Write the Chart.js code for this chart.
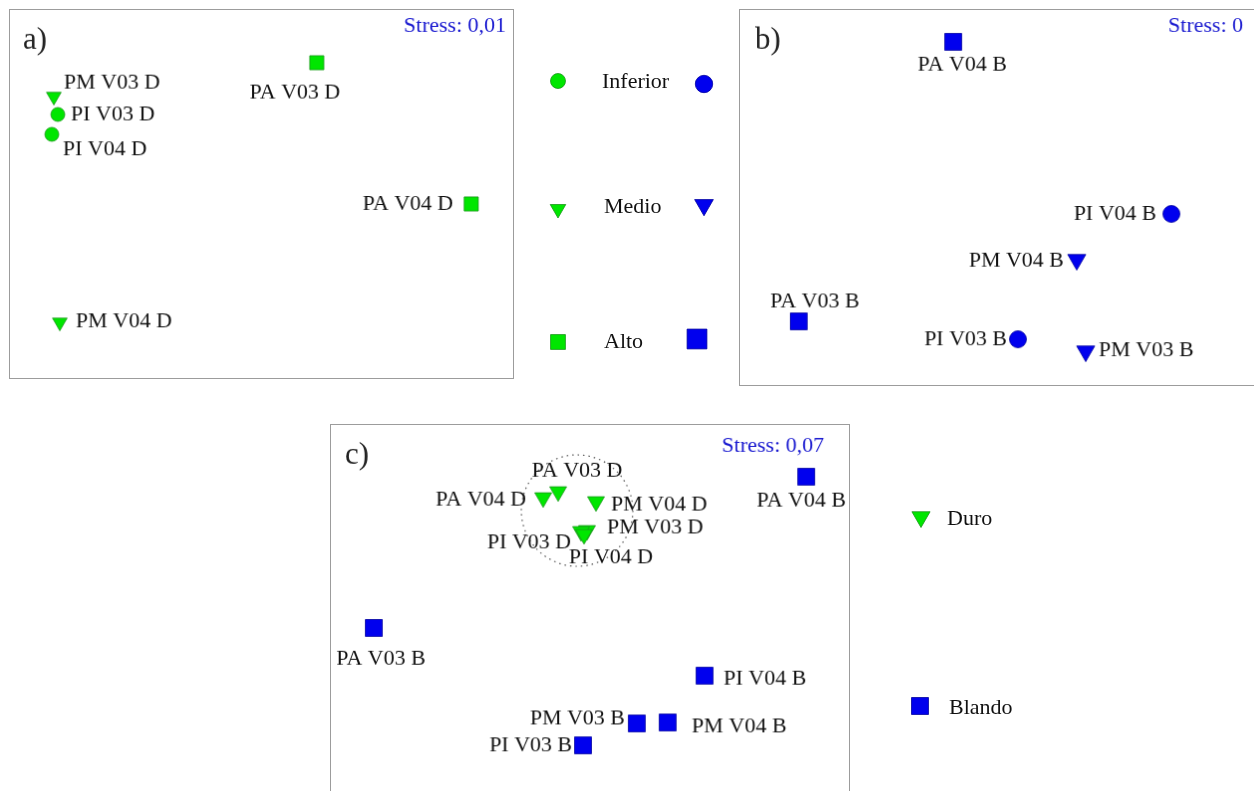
<!DOCTYPE html>
<html>
<head>
<meta charset="utf-8">
<script src="https://cdn.jsdelivr.net/npm/chart.js@4.4.1/dist/chart.umd.min.js"></script>
<style>
  html, body { margin: 0; padding: 0; background: #fff; overflow: hidden; width: 1254px; height: 791px; }
  canvas { position: absolute; }
  .box { border: 1px solid #9c9c9c; }
</style>
</head>
<body>
<canvas id="panelA" class="box" width="505" height="370" style="left:9px;top:9px"></canvas>
<canvas id="legendGroups" width="215" height="400" style="left:520px;top:0px"></canvas>
<canvas id="panelB" class="box" width="530" height="377" style="left:739px;top:9px"></canvas>
<canvas id="panelC" class="box" width="520" height="380" style="left:330px;top:424px"></canvas>
<canvas id="legendTexture" width="160" height="280" style="left:880px;top:470px"></canvas>
<script>
// NMDS ordinations, coordinates (arbitrary units)

// a) Duro
const labelsA = ["PA V03 D", "PM V03 D", "PI V03 D", "PI V04 D", "PA V04 D", "PM V04 D"];
const groupA = ["Alto", "Medio", "Inferior", "Inferior", "Alto", "Medio"];
const xA = [308, 44, 48, 42, 463, 50];
const yA = [317, 283, 265, 245, 175, 56];
const stressA = "Stress: 0,01";

// b) Blando
const labelsB = ["PA V04 B", "PI V04 B", "PM V04 B", "PA V03 B", "PI V03 B", "PM V03 B"];
const groupB = ["Alto", "Inferior", "Medio", "Alto", "Inferior", "Medio"];
const xB = [214, 433, 338, 59, 279, 347];
const yB = [345, 172, 126, 64, 46, 34];
const stressB = "Stress: 0";

// c) Duro + Blando
const labelsC = ["PA V03 D", "PA V04 D", "PM V04 D", "PM V03 D", "PI V03 D", "PI V04 D",
                 "PA V04 B", "PA V03 B", "PI V04 B", "PM V03 B", "PM V04 B", "PI V03 B"];
const groupC = ["Duro", "Duro", "Duro", "Duro", "Duro", "Duro",
                "Blando", "Blando", "Blando", "Blando", "Blando", "Blando"];
const xC = [228, 213, 266, 257, 251, 254, 477, 43, 375, 307, 338, 253];
const yC = [313, 307, 303, 274, 273, 270, 328, 176, 128, 80, 81, 58];
const stressC = "Stress: 0,07";
const clusterCenter = [247, 294];
const clusterRadius = 56;

// legends
const zoneNames = ["Inferior", "Medio", "Alto"];
const textureNames = ["Duro", "Blando"];

// ---- styles ----
const GREEN = "#00e600", GREEN_EDGE = "#1c961c";
const BLUE = "#0000ee", BLUE_EDGE = "#0000a0";
const shapeOf = { Inferior: "circle", Medio: "triangle", Alto: "rect", Duro: "triangle", Blando: "rect" };
const FONT = "'Liberation Serif', 'DejaVu Serif', serif";

// label offsets [dx, dy, align] relative to each marker
const offsetsA = [[-22, 30, "center"], [10, -14, "left"], [13, 0, "left"], [11, 15, "left"], [-18, 0, "right"], [16, -1, "left"]];
const offsetsB = [[9, 23, "center"], [-15, 0, "right"], [-13, 1, "right"], [16, -20, "center"], [-11, 0, "right"], [13, -1, "left"]];
const offsetsC = [[19, -21, "center"], [-17, 2, "right"], [15, 3, "left"], [20, -3, "left"], [-10, 11, "right"], [27, 23, "center"],
                  [-5, 24, "center"], [7, 31, "center"], [19, 3, "left"], [-12, -5, "right"], [24, 4, "left"], [-11, 0, "right"]];

function pts(xs, ys) {
  return xs.map((x, i) => ({ x: x, y: ys[i] }));
}

function textPlugin(cfg) {
  return {
    id: "texts",
    beforeDatasetsDraw(chart) {
      if (!cfg.circle) return;
      const { ctx, scales } = chart;
      const cx = scales.x.getPixelForValue(cfg.circle[0]);
      const cy = scales.y.getPixelForValue(cfg.circle[1]);
      const r = scales.x.getPixelForValue(cfg.circle[0] + cfg.circle[2]) - cx;
      ctx.save();
      ctx.strokeStyle = "#555";
      ctx.lineWidth = 1.2;
      ctx.setLineDash([1.5, 4]);
      ctx.beginPath();
      ctx.arc(cx, cy, r, 0, Math.PI * 2);
      ctx.stroke();
      ctx.restore();
    },
    afterDatasetsDraw(chart) {
      const { ctx } = chart;
      ctx.save();
      ctx.fillStyle = "#111";
      ctx.textBaseline = "middle";
      ctx.font = "22px " + FONT;
      chart.getDatasetMeta(0).data.forEach((pt, i) => {
        if (!cfg.labels[i]) return;
        const [dx, dy, align] = cfg.offsets[i];
        ctx.textAlign = align;
        ctx.fillText(cfg.labels[i], pt.x + dx, pt.y + dy);
      });
      if (cfg.tag) {
        ctx.textAlign = "left";
        ctx.font = "31px " + FONT;
        ctx.fillStyle = "#222";
        ctx.fillText(cfg.tag, cfg.tagAt[0], cfg.tagAt[1]);
      }
      if (cfg.stress) {
        ctx.textAlign = "right";
        ctx.font = "22px " + FONT;
        ctx.fillStyle = "#1a1ad0";
        ctx.fillText(cfg.stress, cfg.stressAt[0], cfg.stressAt[1]);
      }
      ctx.restore();
    }
  };
}

// sizes: either {shape: radius} or an array of radii per point
function makeChart(id, data, groups, colors, edges, sizes, cfg) {
  const canvas = document.getElementById(id);
  const radii = Array.isArray(sizes) ? sizes : groups.map((g) => sizes[shapeOf[g]]);
  return new Chart(canvas, {
    type: "scatter",
    data: {
      datasets: [{
        data: data,
        pointStyle: groups.map((g) => shapeOf[g]),
        rotation: groups.map((g) => (shapeOf[g] === "triangle" ? 180 : 0)),
        pointRadius: radii,
        pointHoverRadius: radii,
        backgroundColor: colors,
        borderColor: edges,
        borderWidth: 0.8,
        clip: false
      }]
    },
    options: {
      responsive: false,
      animation: false,
      events: [],
      layout: { padding: 0, autoPadding: false },
      plugins: { legend: { display: false }, tooltip: { enabled: false } },
      scales: {
        x: { type: "linear", display: false, min: 0, max: canvas.width },
        y: { type: "linear", display: false, min: 0, max: canvas.height }
      }
    },
    plugins: [textPlugin(cfg)]
  });
}

const colorFor = (g) => (g === "Blando" ? BLUE : GREEN);

makeChart("panelA", pts(xA, yA), groupA, GREEN, GREEN_EDGE,
  { circle: 7, triangle: 8.5, rect: 10 },
  { labels: labelsA, offsets: offsetsA, tag: "a)", tagAt: [13, 31], stress: stressA, stressAt: [498, 16] });

makeChart("panelB", pts(xB, yB), groupB, BLUE, BLUE_EDGE,
  { circle: 8.5, triangle: 10.5, rect: 12 },
  { labels: labelsB, offsets: offsetsB, tag: "b)", tagAt: [15, 31], stress: stressB, stressAt: [505, 16] });

makeChart("panelC", pts(xC, yC), groupC, groupC.map(colorFor),
  groupC.map((g) => (g === "Blando" ? BLUE_EDGE : GREEN_EDGE)),
  { triangle: 9.8, rect: 12 },
  { labels: labelsC, offsets: offsetsC, tag: "c)", tagAt: [14, 31], stress: stressC, stressAt: [495, 21],
    circle: [clusterCenter[0], clusterCenter[1], clusterRadius] });

// legend of zones: green (duro) column, blue (blando) column
const legXGreen = [38, 38, 38];
const legXBlue = [184, 184, 177];
const legY = [319, 191, 58];
const legYBlue = [316, 195, 61];
makeChart("legendGroups",
  pts(legXGreen, legY).concat(pts(legXBlue, legYBlue)),
  zoneNames.concat(zoneNames),
  [GREEN, GREEN, GREEN, BLUE, BLUE, BLUE],
  [GREEN_EDGE, GREEN_EDGE, GREEN_EDGE, BLUE_EDGE, BLUE_EDGE, BLUE_EDGE],
  [7.5, 9, 10.5, 8.7, 10.8, 14],
  { labels: zoneNames.concat(["", "", ""]),
    offsets: [[44, 1, "left"], [46, -2, "left"], [46, 0, "left"], [0, 0, "left"], [0, 0, "left"], [0, 0, "left"]] });

// legend of texture
makeChart("legendTexture", pts([41, 40], [233, 44]), textureNames,
  [GREEN, BLUE], [GREEN_EDGE, BLUE_EDGE],
  { triangle: 10.5, rect: 12 },
  { labels: textureNames, offsets: [[26, 2, "left"], [29, 2, "left"]] });
</script>
</body>
</html>
